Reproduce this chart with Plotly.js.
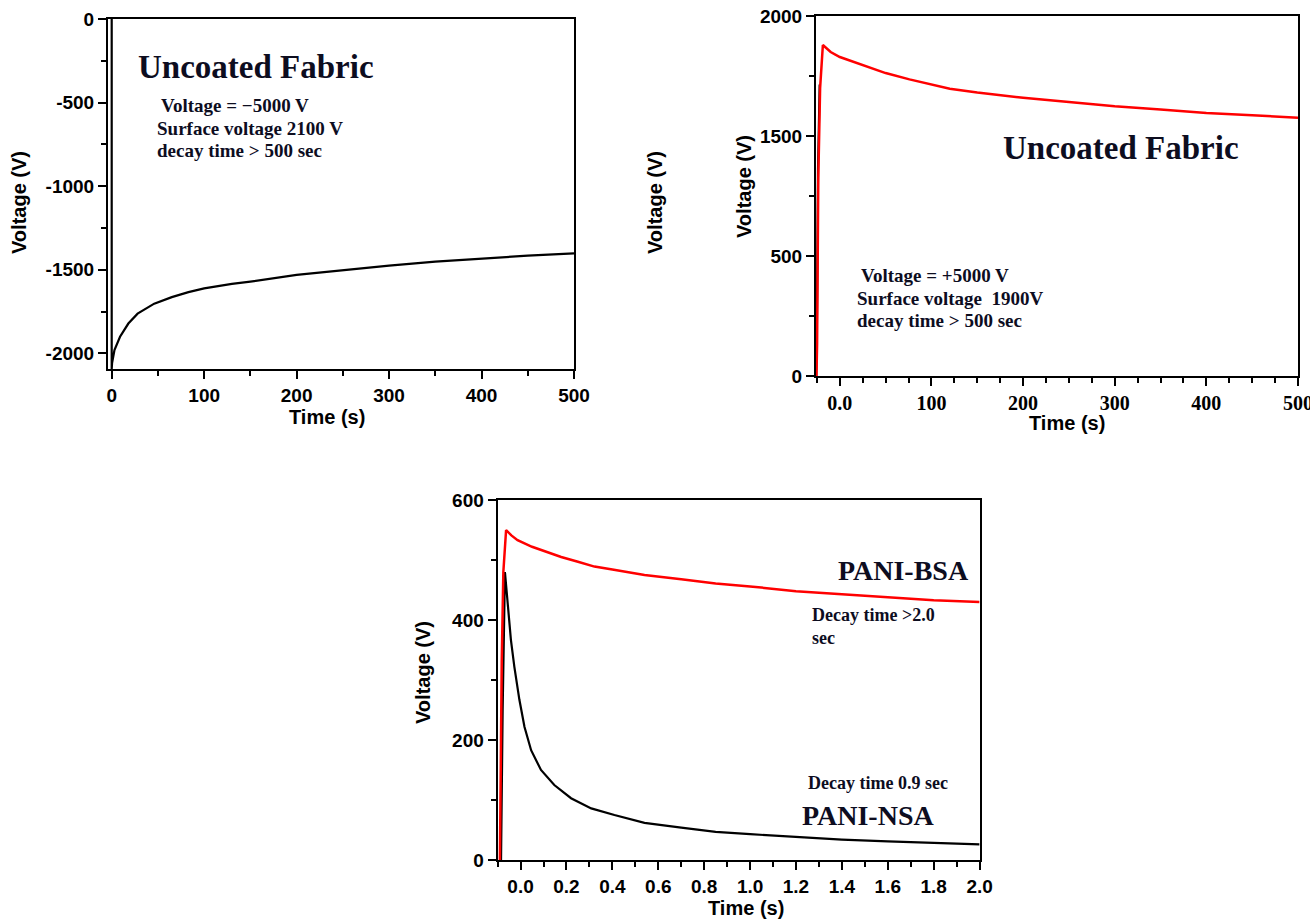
<!DOCTYPE html>
<html>
<head>
<meta charset="utf-8">
<script src="https://cdn.plot.ly/plotly-3.0.1.min.js"></script>
<style>html,body{margin:0;padding:0;background:#fff;}#chart{width:1310px;height:919px;}</style>
</head>
<body>
<div id="chart"></div>
<script>
// ---- Panel 1: uncoated fabric, -5000 V charging ----
const p1Time = [0, 0, 0.4, 3, 9, 18, 28, 46, 65, 83, 100, 130, 150, 200, 250, 300, 350, 400, 450, 500];
const p1Volt = [0, -2094, -2059, -1980, -1901, -1822, -1763, -1703, -1664, -1634, -1612, -1585, -1571, -1531, -1502, -1476, -1452, -1432, -1416, -1402];
const p1YTicks = [0, -500, -1000, -1500, -2000];
const p1YLabels = ["0", "-500", "-1000", "-1500", "-2000"];

// ---- Panel 2: uncoated fabric, +5000 V charging ----
const p2Time = [-25.5, -24.8, -23.5, -21.5, -18.5, -10, 0, 4, 25, 40, 50, 76, 100, 120, 150, 200, 250, 300, 350, 400, 450, 500];
const p2Volt = [0, 180, 1100, 1600, 1839, 1800, 1772, 1765, 1727, 1700, 1683, 1648, 1618, 1596, 1575, 1546, 1522, 1498, 1480, 1461, 1448, 1435];
const p2BlackTime = [-25.8, -25.0, -23.8, -22.0];
const p2BlackVolt = [0, 300, 1150, 1620];
const p2XTicks = [0, 100, 200, 300, 400, 500];
const p2XLabels = ["0.0", "100", "200", "300", "400", "500"];
const p2YTicks = [0, 666.67, 1333.33, 2000];
const p2YLabels = ["0", "500", "1500", "2000"];
const p2YMinor = [333.33, 1000, 1666.67];

// ---- Panel 3: PANI coated fabrics ----
const nsaTime = [-0.085, -0.078, -0.068, -0.056, -0.042, -0.027, -0.005, 0.017, 0.046, 0.089, 0.147, 0.22, 0.308, 0.409, 0.54, 0.7, 0.85, 1.0, 1.2, 1.4, 1.6, 1.8, 2.0];
const nsaVolt = [0, 250, 480, 422, 367, 322, 267, 222, 183, 150, 125, 103, 86, 75, 62, 54, 47, 43, 38, 34, 31, 28, 26];
const bsaTime = [-0.09, -0.082, -0.075, -0.063, -0.04, -0.013, 0.05, 0.1, 0.177, 0.25, 0.322, 0.4, 0.54, 0.7, 0.85, 1.0, 1.2, 1.4, 1.6, 1.8, 2.0];
const bsaVolt = [0, 330, 480, 550, 541, 533, 522, 515, 505, 497, 489, 484, 475, 468, 461, 456, 448, 443, 438, 433, 430];

const W = 1310, H = 919;
const px = x => x / W;
const py = y => 1 - y / H;

const SANS = "Liberation Sans, Arial, sans-serif";
const SERIF = "Liberation Serif, Times New Roman, serif";
const RED = "#ff0000";

const traces = [
  {x: p1Time, y: p1Volt, xaxis: "x", yaxis: "y", mode: "lines", line: {color: "#000", width: 2.2}, hoverinfo: "skip"},
  {x: p2BlackTime, y: p2BlackVolt, xaxis: "x2", yaxis: "y2", mode: "lines", line: {color: "#000", width: 2.2}, hoverinfo: "skip"},
  {x: p2Time, y: p2Volt, xaxis: "x2", yaxis: "y2", mode: "lines", line: {color: RED, width: 2.5}, hoverinfo: "skip"},
  {x: nsaTime, y: nsaVolt, xaxis: "x3", yaxis: "y3", mode: "lines", line: {color: "#000", width: 2.2}, hoverinfo: "skip"},
  {x: bsaTime, y: bsaVolt, xaxis: "x3", yaxis: "y3", mode: "lines", line: {color: RED, width: 2.5}, hoverinfo: "skip"}
];

function axisBase(extra) {
  return Object.assign({
    showline: true, linecolor: "#000", linewidth: 2, mirror: true,
    showgrid: false, zeroline: false,
    ticks: "outside", ticklen: 8, tickwidth: 2, tickcolor: "#000",
    tickfont: {family: SANS, size: 19, color: "#000", weight: "bold"},
    ticklabeloverflow: "allow",
    automargin: false, fixedrange: true
  }, extra);
}
const minorBase = (extra) => Object.assign({ticks: "outside", ticklen: 5, tickwidth: 2, tickcolor: "#000", showgrid: false}, extra);

const layout = {
  width: W, height: H,
  margin: {l: 0, r: 0, t: 0, b: 0},
  paper_bgcolor: "#fff", plot_bgcolor: "#fff",
  showlegend: false,
  xaxis: axisBase({domain: [px(108), px(574)], range: [-4, 500], anchor: "y", dtick: 100, tick0: 0,
    minor: minorBase({dtick: 50, tick0: 0})}),
  yaxis: axisBase({domain: [py(369), py(19)], range: [-2094, 0], anchor: "x",
    tickmode: "array", tickvals: p1YTicks, ticktext: p1YLabels,
    minor: minorBase({dtick: 250, tick0: 0})}),
  xaxis2: axisBase({domain: [px(816), px(1298)], range: [-26, 500], anchor: "y2",
    tickmode: "array", tickvals: p2XTicks, ticktext: p2XLabels,
    tickfont: {family: SERIF, size: 20, color: "#000", weight: "bold"},
    minor: minorBase({dtick: 25, tick0: 0})}),
  yaxis2: axisBase({domain: [py(376), py(16)], range: [0, 2000], anchor: "x2",
    tickmode: "array", tickvals: p2YTicks, ticktext: p2YLabels,
    minor: minorBase({tickmode: "array", tickvals: p2YMinor})}),
  xaxis3: axisBase({domain: [px(497.6), px(979.6)], range: [-0.1, 2.0], anchor: "y3",
    dtick: 0.2, tick0: 0, tickformat: ".1f",
    minor: minorBase({dtick: 0.1, tick0: 0})}),
  yaxis3: axisBase({domain: [py(860), py(500)], range: [0, 600], anchor: "x3",
    dtick: 200, tick0: 0,
    minor: minorBase({dtick: 100, tick0: 0})}),
  annotations: []
};

function txt(text, x, y, opts) {
  layout.annotations.push(Object.assign({
    text: text, xref: "paper", yref: "paper", x: px(x), y: py(y),
    showarrow: false, xanchor: "left", yanchor: "middle",
    font: {family: SERIF, size: 19, color: "#0d0d1f", weight: "bold"}
  }, opts || {}));
}
function axTitle(text, x, y, rot) {
  txt(text, x, y, {xanchor: "center", textangle: rot ? -90 : 0,
    font: {family: SANS, size: 20, color: "#000", weight: "bold"}});
}

// Panel 1 texts
txt("Uncoated Fabric", 136, 67, {font: {family: SERIF, size: 33, color: "#0d0d1f", weight: "bold"}});
txt("Voltage = \u22125000 V", 159, 105);
txt("Surface voltage 2100 V", 155, 128);
txt("decay time > 500 sec", 155, 150);
axTitle("Voltage (V)", 19, 203, true);
axTitle("Time (s)", 327, 417, false);

// Panel 2 texts
txt("Uncoated Fabric", 1001, 148, {font: {family: SERIF, size: 33, color: "#0d0d1f", weight: "bold"}});
txt("Voltage = +5000 V", 859, 276);
txt("Surface voltage  1900V", 855, 298);
txt("decay time > 500 sec", 855, 321);
axTitle("Voltage (V)", 655, 203, true);
axTitle("Voltage (V)", 744, 187, true);
axTitle("Time (s)", 1067, 423, false);

// Panel 3 texts
txt("PANI-BSA", 836, 570, {font: {family: SERIF, size: 28, color: "#0d0d1f", weight: "bold"}});
txt("Decay time >2.0", 810, 615, {font: {family: SERIF, size: 18, color: "#0d0d1f", weight: "bold"}});
txt("sec", 810, 638, {font: {family: SERIF, size: 18, color: "#0d0d1f", weight: "bold"}});
txt("Decay time 0.9 sec", 806, 783, {font: {family: SERIF, size: 18, color: "#0d0d1f", weight: "bold"}});
txt("PANI-NSA", 800, 815, {font: {family: SERIF, size: 28, color: "#0d0d1f", weight: "bold"}});
axTitle("Voltage (V)", 423, 673, true);
axTitle("Time (s)", 746, 908, false);

Plotly.newPlot("chart", traces, layout, {staticPlot: true, displayModeBar: false});
</script>
</body>
</html>
